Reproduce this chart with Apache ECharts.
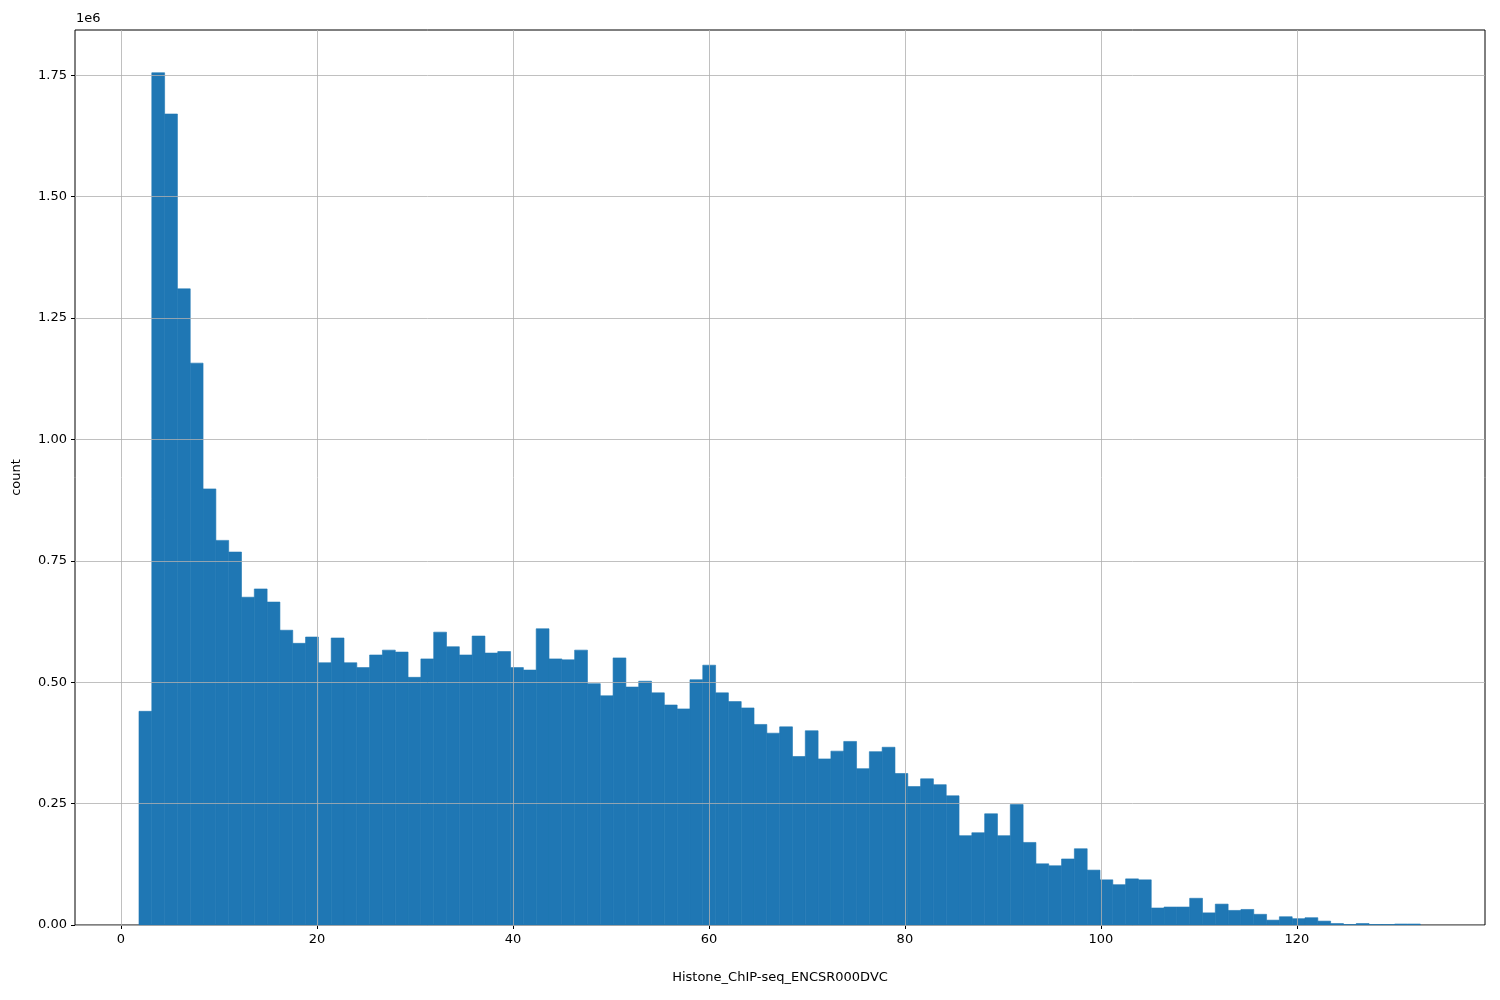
<!DOCTYPE html>
<html><head><meta charset="utf-8">
<script src="https://cdn.jsdelivr.net/npm/echarts@6/dist/echarts.min.js"></script>
<style>html,body{margin:0;padding:0;background:#fff}#c{width:1500px;height:1000px}</style>
</head><body><div id="c"></div>
<script>
const binLow = 1.84;
const binWidth = 1.3076;
const counts = [0.44,1.755,1.67,1.31,1.157,0.898,0.792,0.768,0.675,0.692,
0.665,0.607,0.580,0.593,0.540,0.591,0.540,0.530,0.556,0.566,
0.562,0.510,0.548,0.603,0.573,0.556,0.595,0.560,0.563,0.530,
0.525,0.610,0.548,0.546,0.566,0.497,0.472,0.550,0.490,0.502,
0.478,0.453,0.445,0.505,0.535,0.478,0.460,0.447,0.413,0.395,
0.408,0.347,0.400,0.342,0.358,0.378,0.322,0.357,0.366,0.312,
0.285,0.301,0.289,0.266,0.184,0.190,0.229,0.184,0.248,0.170,
0.126,0.122,0.136,0.157,0.113,0.093,0.083,0.095,0.093,0.035,
0.037,0.037,0.055,0.025,0.043,0.030,0.032,0.022,0.010,0.017,
0.013,0.015,0.008,0.003,0.001,0.003,0.001,0.001,0.002,0.002];
const xTicks = [0,20,40,60,80,100,120];
const yTicks = [0,0.25,0.5,0.75,1.0,1.25,1.5,1.75];

const data = counts.map((c,i)=>[binLow+i*binWidth, binLow+(i+1)*binWidth, c*1e6]);
const yVals = yTicks.map(v=>v*1e6);
const chart = echarts.init(document.getElementById('c'));
const lineStyle = {color:'#b0b0b0', width:0.8, type:'solid'};
chart.setOption({
  animation:false,
  grid:{left:75,right:15,top:30,bottom:75,show:true,borderColor:'#000',borderWidth:1},
  xAxis:{type:'value',min:-4.69,max:139.2,
    axisLine:{show:false,onZero:false},axisTick:{show:true,length:4,customValues:xTicks,lineStyle:{color:'#000'}},
    axisLabel:{color:'#000',fontSize:13,fontFamily:'DejaVu Sans',margin:8,customValues:xTicks},
    splitLine:{show:false},
    name:'Histone_ChIP-seq_ENCSR000DVC',nameLocation:'middle',nameGap:46,
    nameTextStyle:{color:'#000',fontSize:13,fontFamily:'DejaVu Sans'}},
  yAxis:{type:'value',min:0,max:1.843e6,
    axisLine:{show:false,onZero:false},axisTick:{show:true,length:4,customValues:yVals,lineStyle:{color:'#000'}},
    axisLabel:{color:'#000',fontSize:13,fontFamily:'DejaVu Sans',margin:8,customValues:yVals,
      formatter:v=>(v/1e6).toFixed(2)},
    splitLine:{show:false},
    name:'count',nameLocation:'middle',nameGap:52,nameRotate:90,
    nameTextStyle:{color:'#000',fontSize:13,fontFamily:'DejaVu Sans'}},
  graphic:[{type:'text',left:76,top:12,style:{text:'1e6',fontSize:13,fontFamily:'DejaVu Sans',fill:'#000'}}],
  series:[{
    type:'custom',
    data:data,
    encode:{x:[0,1],y:2},
    renderItem:(params,api)=>{
      const p0=api.coord([api.value(0),api.value(2)]);
      const p1=api.coord([api.value(1),0]);
      return {type:'rect',shape:{x:p0[0],y:p0[1],width:p1[0]-p0[0],height:p1[1]-p0[1]},
        style:{fill:'#1f77b4',stroke:'#1f77b4',lineWidth:0.6}};
    },
    z:2
  },{
    type:'line',data:[],z:5,
    markLine:{silent:true,symbol:'none',label:{show:false},lineStyle:lineStyle,animation:false,
      data:[...xTicks.map(v=>({xAxis:v})),...yVals.map(v=>({yAxis:v}))]}
  }]
});
</script></body></html>
